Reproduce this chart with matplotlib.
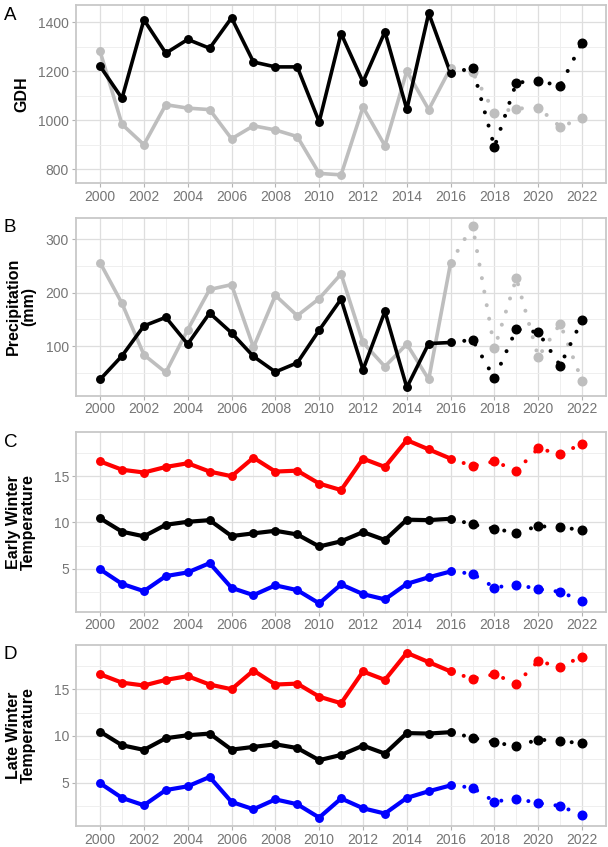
import matplotlib.pyplot as plt
import numpy as np

plt.rcParams['font.family'] = ['Liberation Sans', 'DejaVu Sans']

years = list(range(2000, 2017))
years_proj = list(range(2016, 2023))

# A - GDH
gdh_black = [1220, 1089, 1409, 1273, 1329, 1293, 1417, 1237, 1217, 1217,
             993, 1353, 1156, 1360, 1044, 1436, 1191]
gdh_grey = [1280, 983, 900, 1063, 1049, 1043, 924, 977, 960, 933,
            783, 777, 1053, 896, 1200, 1043, 1213]
gdh_black_proj = [1191, 1213, 891, 1153, 1160, 1140, 1316]
gdh_grey_proj = [1213, 1196, 1031, 1047, 1051, 973, 1007]

# B - precipitation
prec_black = [38, 82, 138, 154, 104, 162, 125, 81, 52, 69,
              130, 188, 56, 165, 23, 105, 107]
prec_grey = [256, 180, 84, 51, 131, 206, 215, 98, 195, 157,
             189, 235, 107, 62, 104, 38, 256]
prec_black_proj = [107, 112, 40, 132, 126, 64, 149]
prec_grey_proj = [256, 325, 96, 227, 80, 142, 35]

# C - early winter temperature (max / mean / min)
early_max = [16.6, 15.7, 15.4, 16.0, 16.4, 15.5, 15.0, 17.0, 15.5, 15.6,
             14.2, 13.5, 16.9, 16.0, 18.9, 17.9, 16.9]
early_mean = [10.45, 9.0, 8.5, 9.75, 10.07, 10.25, 8.53, 8.82, 9.1, 8.7,
              7.4, 7.96, 8.96, 8.1, 10.3, 10.25, 10.4]
early_min = [4.93, 3.36, 2.57, 4.2, 4.6, 5.6, 2.93, 2.14, 3.2, 2.68,
             1.25, 3.3, 2.25, 1.68, 3.36, 4.07, 4.7]
early_max_proj = [16.9, 16.1, 16.6, 15.6, 18.0, 17.4, 18.5]
early_mean_proj = [10.4, 9.8, 9.3, 8.9, 9.6, 9.46, 9.2]
early_min_proj = [4.7, 4.46, 2.96, 3.29, 2.79, 2.5, 1.5]

# D - late winter temperature
late_max = [16.6, 15.7, 15.4, 16.0, 16.4, 15.5, 15.0, 17.0, 15.5, 15.6,
            14.2, 13.5, 16.9, 16.0, 18.9, 17.9, 16.9]
late_mean = [10.45, 9.0, 8.5, 9.75, 10.07, 10.25, 8.53, 8.82, 9.1, 8.7,
             7.4, 7.96, 8.96, 8.1, 10.3, 10.25, 10.4]
late_min = [4.93, 3.36, 2.57, 4.2, 4.6, 5.6, 2.93, 2.14, 3.2, 2.68,
            1.25, 3.3, 2.25, 1.68, 3.36, 4.07, 4.7]
late_max_proj = [16.9, 16.1, 16.6, 15.6, 18.0, 17.4, 18.5]
late_mean_proj = [10.4, 9.8, 9.3, 8.9, 9.6, 9.46, 9.2]
late_min_proj = [4.7, 4.46, 2.96, 3.29, 2.79, 2.5, 1.5]

GREY = '#BEBEBE'

fig = plt.figure(figsize=(6.08, 8.47), dpi=100)

# [left, bottom, width, height] in figure fraction
boxes = [[0.125, 0.784, 0.872, 0.210],
         [0.125, 0.533, 0.872, 0.210],
         [0.125, 0.278, 0.872, 0.212],
         [0.125, 0.025, 0.872, 0.214]]


def draw(ax, obs, proj, colors, lw=2.6):
    for vals, c in zip(obs, colors):
        ax.plot(years, vals, color=c, lw=lw, marker='o', ms=5.4,
                solid_capstyle='round', zorder=3)
    for vals, c in zip(proj, colors):
        ax.plot(years_proj, vals, color=c, lw=2.9, ls=(0, (0.01, 3.4)),
                dash_capstyle='round', zorder=3)
        ax.plot(years_proj[1:], vals[1:], color=c, lw=0, marker='o', ms=6.2,
                zorder=4)


def style(ax, yticks, yminor, ylabel, letter, lo, hi, labx=-0.075):
    pad = (hi - lo) * 0.05
    ax.set_ylim(lo - pad, hi + pad)
    ax.set_xlim(2000 - 1.1, 2022 + 1.1)
    ax.set_xticks(range(2000, 2023, 2))
    ax.set_xticks(range(2001, 2023, 2), minor=True)
    ax.set_yticks(yticks)
    ax.set_yticks(yminor, minor=True)
    ax.grid(True, which='major', color='#DEDEDE', lw=0.9, zorder=0)
    ax.grid(True, which='minor', color='#EDEDED', lw=0.6, zorder=0)
    ax.set_axisbelow(True)
    for s in ax.spines.values():
        s.set_color('#C8C8C8')
        s.set_linewidth(1.3)
    ax.tick_params(which='major', length=3, width=0.8, color='#B3B3B3',
                   labelcolor='#757575', labelsize=10, pad=2)
    ax.tick_params(which='minor', length=0)
    ax.set_ylabel(ylabel, fontsize=11.5, fontweight='bold', linespacing=1.0)
    ax.yaxis.set_label_coords(labx, 0.5)
    pos = ax.get_position()
    fig.text(0.006, pos.y1 - 0.002, letter, fontsize=13.5, va='top', ha='left')


axA = fig.add_axes(boxes[0])
draw(axA, [gdh_grey, gdh_black], [gdh_grey_proj, gdh_black_proj], [GREY, 'black'])
style(axA, [800, 1000, 1200, 1400], [900, 1100, 1300], 'GDH', 'A', 777, 1436,
      labx=-0.088)

axB = fig.add_axes(boxes[1])
draw(axB, [prec_grey, prec_black], [prec_grey_proj, prec_black_proj], [GREY, 'black'])
style(axB, [100, 200, 300], [50, 150, 250], 'Precipitation\n(mm)', 'B', 23, 325)

cols = ['red', 'black', 'blue']
axC = fig.add_axes(boxes[2])
draw(axC, [early_max, early_mean, early_min],
     [early_max_proj, early_mean_proj, early_min_proj], cols, lw=3.0)
style(axC, [5, 10, 15], [2.5, 7.5, 12.5, 17.5], 'Early Winter\nTemperature', 'C', 1.25, 18.9)

axD = fig.add_axes(boxes[3])
draw(axD, [late_max, late_mean, late_min],
     [late_max_proj, late_mean_proj, late_min_proj], cols, lw=3.0)
style(axD, [5, 10, 15], [2.5, 7.5, 12.5, 17.5], 'Late Winter\nTemperature', 'D', 1.25, 18.9)

fig.savefig('out.png', dpi=100)
